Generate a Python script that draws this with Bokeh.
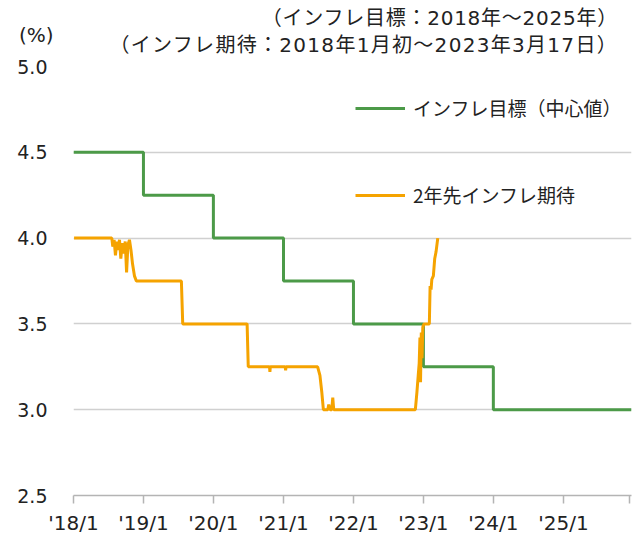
from datetime import datetime
from bokeh.plotting import figure
from bokeh.layouts import column
from bokeh.models import (Range1d, FixedTicker, Legend, LegendItem, Div,
                          PrintfTickFormatter)
from bokeh.embed import file_html
from bokeh.resources import INLINE

# ---- data ----
target_dates = ["2018-01-01", "2019-01-01", "2020-01-01", "2021-01-01",
                "2022-01-01", "2023-01-01", "2024-01-01", "2025-12-22"]
target_values = [4.50, 4.25, 4.00, 3.75, 3.50, 3.25, 3.00, 3.00]

expect_dates = [
    "2018-01-04", "2018-07-20", "2018-07-25", "2018-08-01", "2018-08-08",
    "2018-08-15", "2018-08-22", "2018-08-29", "2018-09-05", "2018-09-12",
    "2018-09-20", "2018-09-28", "2018-10-05", "2018-10-12", "2018-10-20",
    "2018-10-28", "2018-11-05", "2018-11-15", "2018-11-25",
    "2019-07-18", "2019-07-25",
    "2020-06-25", "2020-07-01",
    "2020-10-20", "2020-10-22", "2020-10-24",
    "2021-01-10", "2021-01-12", "2021-01-14",
    "2021-06-28", "2021-07-10", "2021-07-20", "2021-07-28",
    "2021-08-20", "2021-08-25", "2021-09-01", "2021-09-10", "2021-09-15",
    "2021-09-20",
    "2022-11-20", "2022-11-28", "2022-12-05", "2022-12-10", "2022-12-14",
    "2022-12-17", "2022-12-21", "2022-12-25", "2022-12-29", "2023-01-04",
    "2023-02-01", "2023-02-05", "2023-02-10", "2023-02-14", "2023-02-22",
    "2023-03-01", "2023-03-08", "2023-03-17",
]
expect_values = [
    4.00, 4.00, 3.95, 3.99, 3.90,
    3.98, 3.93, 3.99, 3.88, 3.97,
    3.91, 3.98, 3.80, 3.96, 3.99,
    3.93, 3.85, 3.78, 3.75,
    3.75, 3.50,
    3.50, 3.25,
    3.25, 3.22, 3.25,
    3.25, 3.23, 3.25,
    3.25, 3.20, 3.10, 3.00,
    3.00, 3.03, 3.00, 3.00, 3.07,
    3.00,
    3.00, 3.10, 3.20, 3.27, 3.42,
    3.16, 3.45, 3.30, 3.48, 3.50,
    3.50, 3.72, 3.70, 3.76, 3.78,
    3.88, 3.92, 4.00,
]

tick_dates = ["2018-01-01", "2019-01-01", "2020-01-01", "2021-01-01",
              "2022-01-01", "2023-01-01", "2024-01-01", "2025-01-01",
              "2025-12-12"]
tick_labels = ["'18/1", "'19/1", "'20/1", "'21/1", "'22/1", "'23/1",
               "'24/1", "'25/1", ""]
y_ticks = [2.5, 3.0, 3.5, 4.0, 4.5, 5.0]

title_line1 = "（インフレ目標：2018年～2025年）"
title_line2 = "（インフレ期待：2018年1月初～2023年3月17日）"
unit_label = "(%)"
name_target = "インフレ目標（中心値）"
name_expect = "2年先インフレ期待"

GREEN = "#4c9a48"
ORANGE = "#f5a300"
JP = "Noto Sans CJK JP"
NUM = "DejaVu Sans"
TXT = "#222222"


def ms(s):
    return datetime.strptime(s, "%Y-%m-%d").timestamp() * 1000.0


t_x = [datetime.strptime(d, "%Y-%m-%d") for d in target_dates]
e_x = [datetime.strptime(d, "%Y-%m-%d") for d in expect_dates]
ticks = [ms(d) for d in tick_dates]

W = 633
HEAD_H = 53

p = figure(width=W, height=484, x_axis_type="datetime",
           output_backend="svg", toolbar_location=None,
           x_range=Range1d(ms("2018-01-01"), ms("2025-12-22")),
           y_range=Range1d(2.5, 5.0),
           min_border_left=73, min_border_right=2,
           min_border_top=13, min_border_bottom=41)
p.outline_line_color = None
p.background_fill_color = "white"
p.border_fill_color = "white"

r_target = p.step(t_x, target_values, mode="after", line_color=GREEN,
                  line_width=3)
r_expect = p.line(e_x, expect_values, line_color=ORANGE, line_width=3)

# x axis
xa = p.xaxis[0]
xa.ticker = FixedTicker(ticks=ticks)
xa.major_label_overrides = {t: l for t, l in zip(ticks, tick_labels)}
xa.axis_line_color = "#b4b4b4"
xa.axis_line_width = 1.5
xa.major_tick_line_color = "#b4b4b4"
xa.major_tick_line_width = 1.5
xa.major_tick_in = 0
xa.major_tick_out = 8
xa.minor_tick_line_color = None
xa.major_label_text_font = NUM
xa.major_label_text_font_size = "20px"
xa.major_label_text_color = TXT
xa.major_label_standoff = 7

# y axis
ya = p.yaxis[0]
ya.ticker = FixedTicker(ticks=y_ticks)
ya.formatter = PrintfTickFormatter(format="%.1f")
ya.axis_line_color = None
ya.major_tick_line_color = None
ya.minor_tick_line_color = None
ya.major_label_text_font = NUM
ya.major_label_text_font_size = "19px"
ya.major_label_text_color = TXT
ya.major_label_standoff = 20

p.xgrid.grid_line_color = None
p.ygrid.ticker = FixedTicker(ticks=y_ticks)
p.ygrid.grid_line_color = "#d0d0d0"
p.ygrid.grid_line_width = 1.5

legend = Legend(items=[LegendItem(label=name_target, renderers=[r_target]),
                       LegendItem(label=name_expect, renderers=[r_expect])],
                location=(282, 287), orientation="vertical",
                glyph_width=50, glyph_height=20, label_standoff=8,
                spacing=60, padding=0, margin=0,
                border_line_color=None, background_fill_alpha=0,
                label_text_font=JP, label_text_font_size="19px",
                label_text_color=TXT)
p.add_layout(legend)

head_html = (
    f'<div style="position:relative;width:{W}px;height:{HEAD_H}px;'
    f"font-family:'{NUM}','{JP}',sans-serif;font-size:20px;color:{TXT};"
    'line-height:1;white-space:nowrap;">'
    f'<span style="position:absolute;left:19px;top:25px;">{unit_label}</span>'
    f'<span style="position:absolute;right:15px;top:8px;'
    f'letter-spacing:0.75px;">{title_line1}</span>'
    f'<span style="position:absolute;right:15px;top:35px;'
    f'letter-spacing:1.3px;">{title_line2}</span>'
    '</div>'
)
head = Div(text=head_html, width=W, height=HEAD_H, margin=0)

layout = column(head, p, spacing=0)

open("out.html", "w").write(file_html(layout, INLINE))
